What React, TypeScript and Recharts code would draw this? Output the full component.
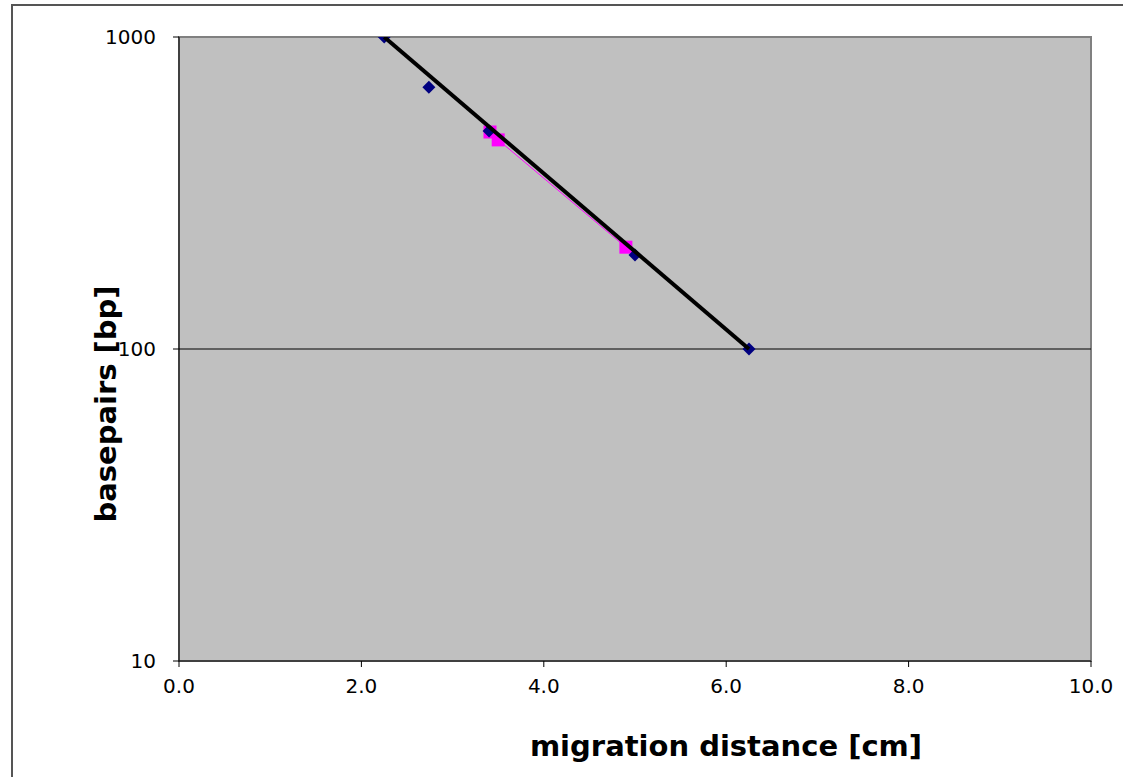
import { ScatterChart, Scatter, XAxis, YAxis, CartesianGrid, ReferenceLine, ReferenceArea, Label } from 'recharts'

// marker series (blue diamonds)
const markerX = [2.25, 2.74, 3.4, 5.0, 6.25]
const markerBp = [1000, 690, 500, 200, 100]

// sample series (magenta squares)
const sampleX = [3.41, 3.5, 4.9]
const sampleBp = [496, 468, 212]

// exponential trend line through the markers
const trendX = [2.25, 6.25]
const trendBp = [1000, 100]

const xTicks = [0, 2, 4, 6, 8, 10]
const yTicks = [10, 100, 1000]

const markers = markerX.map((x, i) => ({ x, y: markerBp[i] }))
const samples = sampleX.map((x, i) => ({ x, y: sampleBp[i] }))
const trend = trendX.map((x, i) => ({ x, y: trendBp[i] }))

const font = 'Verdana, "DejaVu Sans", sans-serif'

const Diamond = (p: any) => {
  const { cx, cy } = p
  const r = 6.5
  return <polygon points={`${cx},${cy - r} ${cx + r},${cy} ${cx},${cy + r} ${cx - r},${cy}`} fill="#000080" />
}

const Square = (p: any) => {
  const { cx, cy } = p
  return <rect x={cx - 6.5} y={cy - 6.5} width={13} height={13} fill="#FF00FF" />
}

const NoDot = () => <g />

export default function App() {
  return (
    <div style={{ position: 'absolute', left: 0, top: 0, width: 1123, height: 777, overflow: 'hidden', background: '#fff' }}>
      <div style={{ position: 'absolute', left: 11, top: 4, width: 1200, height: 900, border: '2px solid #555' }} />
      <div style={{ position: 'absolute', left: 0, top: 0 }}>
        <ScatterChart width={1123} height={777} margin={{ top: 37, right: 32, bottom: 30, left: 60 }}>
          <CartesianGrid fill="#C0C0C0" horizontal={false} vertical={false} />
          <ReferenceArea x1={0} x2={10} y1={10} y2={1000} fill="none" stroke="#808080" strokeWidth={2} ifOverflow="visible" />
          <ReferenceLine y={100} stroke="#000" strokeWidth={1.2} />
          <XAxis
            type="number"
            dataKey="x"
            domain={[0, 10]}
            ticks={xTicks}
            tickFormatter={(v) => Number(v).toFixed(1)}
            height={86}
            stroke="#000"
            tickSize={6}
            tickMargin={12}
            tick={{ fontSize: 20, fill: '#000', fontFamily: font }}
            allowDataOverflow
          >
            <Label
              content={() => (
                <text x={726} y={756} textAnchor="middle" fontSize={29} fontWeight="bold" fontFamily={font} fill="#000">
                  migration distance [cm]
                </text>
              )}
            />
          </XAxis>
          <YAxis
            type="number"
            dataKey="y"
            scale="log"
            domain={[10, 1000]}
            ticks={yTicks}
            width={119}
            stroke="#000"
            tickSize={6}
            tickMargin={17}
            tick={{ fontSize: 20, fill: '#000', fontFamily: font }}
            allowDataOverflow
          >
            <Label
              content={() => (
                <text
                  x={106}
                  y={404}
                  transform="rotate(-90 106 404)"
                  textAnchor="middle"
                  dominantBaseline="central"
                  fontSize={29}
                  fontWeight="bold"
                  fontFamily={font}
                  fill="#000"
                >
                  basepairs [bp]
                </text>
              )}
            />
          </YAxis>
          <Scatter data={samples} line={{ stroke: '#FF00FF', strokeWidth: 1 }} shape={Square} isAnimationActive={false} />
          <Scatter data={markers} shape={Diamond} isAnimationActive={false} />
          <Scatter data={trend} line={{ stroke: '#000', strokeWidth: 4 }} shape={NoDot} isAnimationActive={false} />
        </ScatterChart>
      </div>
    </div>
  )
}
